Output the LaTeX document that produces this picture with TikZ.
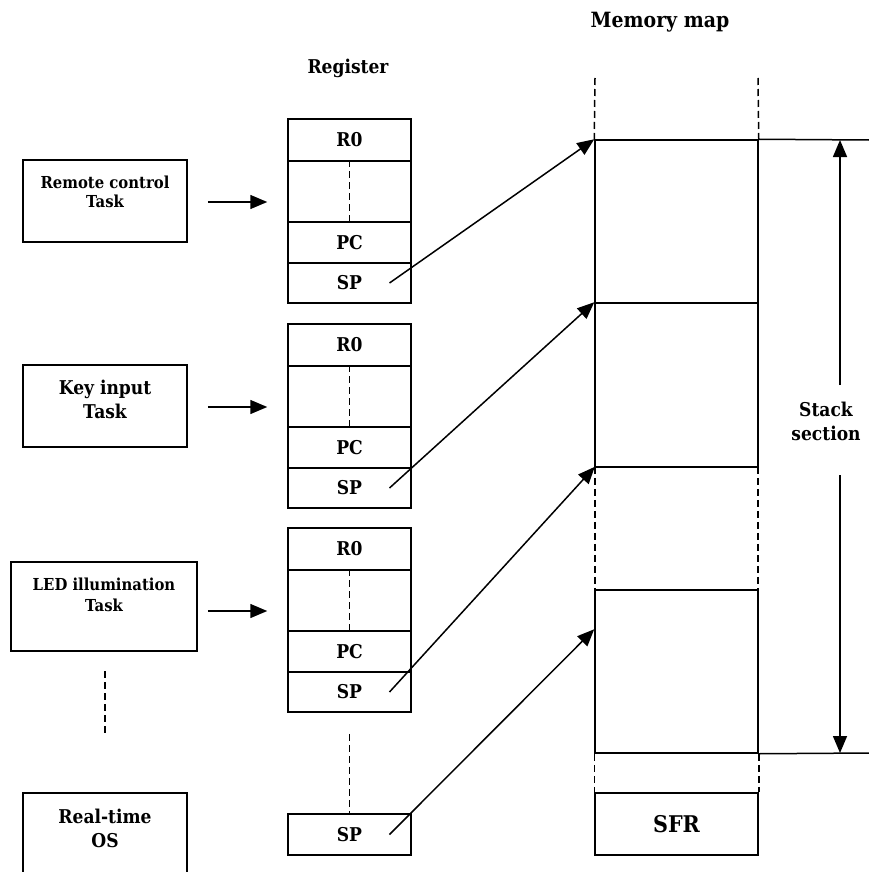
\documentclass[tikz,border=0pt]{standalone}
\usepackage{fontspec}
\setmainfont{DejaVu Serif}[FakeStretch=0.9]
\usetikzlibrary{arrows.meta,calc}
\tikzset{
  ln/.style={line width=1.5pt},
  dsh/.style={line width=1.5pt, dash pattern=on 7pt off 4pt},
  arr/.style={line width=1.5pt, -{Triangle[length=17pt,width=14pt]}},
  box/.style={draw, line width=1.5pt, rectangle, inner sep=0pt},
  lbl/.style={align=center, inner sep=0pt},
  reg/.style={box, minimum width=123pt, font=\fontsize{19}{22}\selectfont\bfseries},
  ttl/.style={inner sep=0pt},
}
\begin{document}
\begin{tikzpicture}[x=1pt,y=-1pt]
\useasboundingbox (0,0) rectangle (869,872);

% titles
\node[ttl, font=\fontsize{19}{22}\selectfont\bfseries] (treg) at (348,68) {Register};
\node[ttl, font=\fontsize{21}{24}\selectfont\bfseries] (tmem) at (660,22) {Memory map};

% task boxes
\node[box, minimum width=164pt, minimum height=82pt] (t1) at (105,201) {};
\node[lbl, font=\fontsize{16.5}{19.5}\selectfont\bfseries] (t1l) at (105,192) {Remote control\\Task};
\node[box, minimum width=164pt, minimum height=82pt] (t2) at (105,406) {};
\node[lbl, font=\fontsize{19}{24}\selectfont\bfseries] (t2l) at (105,399) {Key input\\Task};
\node[box, minimum width=186pt, minimum height=89pt] (t3) at (104,606.5) {};
\node[lbl, font=\fontsize{16.5}{21}\selectfont\bfseries] (t3l) at (104,595) {LED illumination\\Task};
\node[box, minimum width=164pt, minimum height=100pt] (t4) at (105,843) {};
\node[lbl, font=\fontsize{19}{24}\selectfont\bfseries] (t4l) at (105,828) {Real-time\\OS};
\coordinate (d1a) at (105,671);
\coordinate (d1b) at (105,733);
\draw[dsh] (d1a) -- (d1b);

% registers
\foreach \i/\t in {1/119,2/324,3/528}{
  \node[reg, minimum height=42pt] (r\i a) at (349.5,\t+21) {R0};
  \node[reg, minimum height=61pt] (r\i b) at (349.5,\t+72.5) {};
  \node[reg, minimum height=41pt] (r\i c) at (349.5,\t+123.5) {PC};
  \node[reg, minimum height=40pt] (r\i d) at (349.5,\t+164) {SP};
  \draw[dsh] (r\i b.north) -- (r\i b.south);
}
\node[reg, minimum height=41pt] (r4d) at (349.5,834.5) {SP};
\draw[dsh] (r3d.south) ++(0,21) coordinate (d2a) -- (r4d.north);

% task -> register arrows
\draw[arr] ($(t1.east)+(20,1)$) -- ($(t1.east -| r1b.west)+(-20,1)$);
\draw[arr] ($(t2.east)+(20,1)$) -- ($(t2.east -| r2b.west)+(-20,1)$);
\draw[arr] ($(t3.east)+(10,4.5)$) -- ($(t3.east -| r3b.west)+(-20,4.5)$);

% memory map
\node[box, minimum width=163pt, minimum height=163pt] (m1) at (676.5,221.5) {};
\node[box, minimum width=163pt, minimum height=164pt] (m2) at (676.5,385) {};
\node[inner sep=0pt, minimum width=163pt, minimum height=123pt] (m3) at (676.5,528.5) {};
\node[box, minimum width=163pt, minimum height=163pt] (m4) at (676.5,671.5) {};
\node[box, minimum width=163pt, minimum height=62pt, font=\fontsize{23}{26}\selectfont\bfseries] (sfr) at (676.5,824) {SFR};
\draw[dsh] (m3.north west) -- (m3.south west);
\draw[dsh] (m3.north east) -- (m3.south east);
\draw[dsh] (m4.south west) -- (sfr.north west);
\draw[dsh] (m4.south east) -- (sfr.north east);
\coordinate (mt1) at (595,78);
\coordinate (mt2) at (758,78);
\draw[dsh] (mt1) -- (m1.north west);
\draw[dsh] (mt2) -- (m1.north east);
\coordinate (e1) at (869,140);
\coordinate (e2) at (869,753);
\draw[ln] (m1.north east) -- (e1);
\draw[ln] (m4.south east) -- (e2);

% SP -> memory arrows
\draw[arr] ($(r1d.center)+(40,0)$) -- (m1.north west);
\draw[arr] ($(r2d.center)+(40,0)$) -- (m2.north west);
\draw[arr] ($(r3d.center)+(40,0)$) -- (m3.north west);
\draw[arr] ($(r4d.center)+(40,0)$) -- ($(m4.north west)+(0,40)$);

% stack section
\coordinate (sTop) at (840,140);
\coordinate (sBot) at (840,753);
\coordinate (sA) at (840,385);
\coordinate (sB) at (840,475);
\draw[arr] (sA) -- (sTop);
\draw[arr] (sB) -- (sBot);
\node[font=\fontsize{19}{24}\selectfont\bfseries, align=center, inner sep=0pt] (stk) at (826,421) {Stack\\section};
\end{tikzpicture}
\end{document}
